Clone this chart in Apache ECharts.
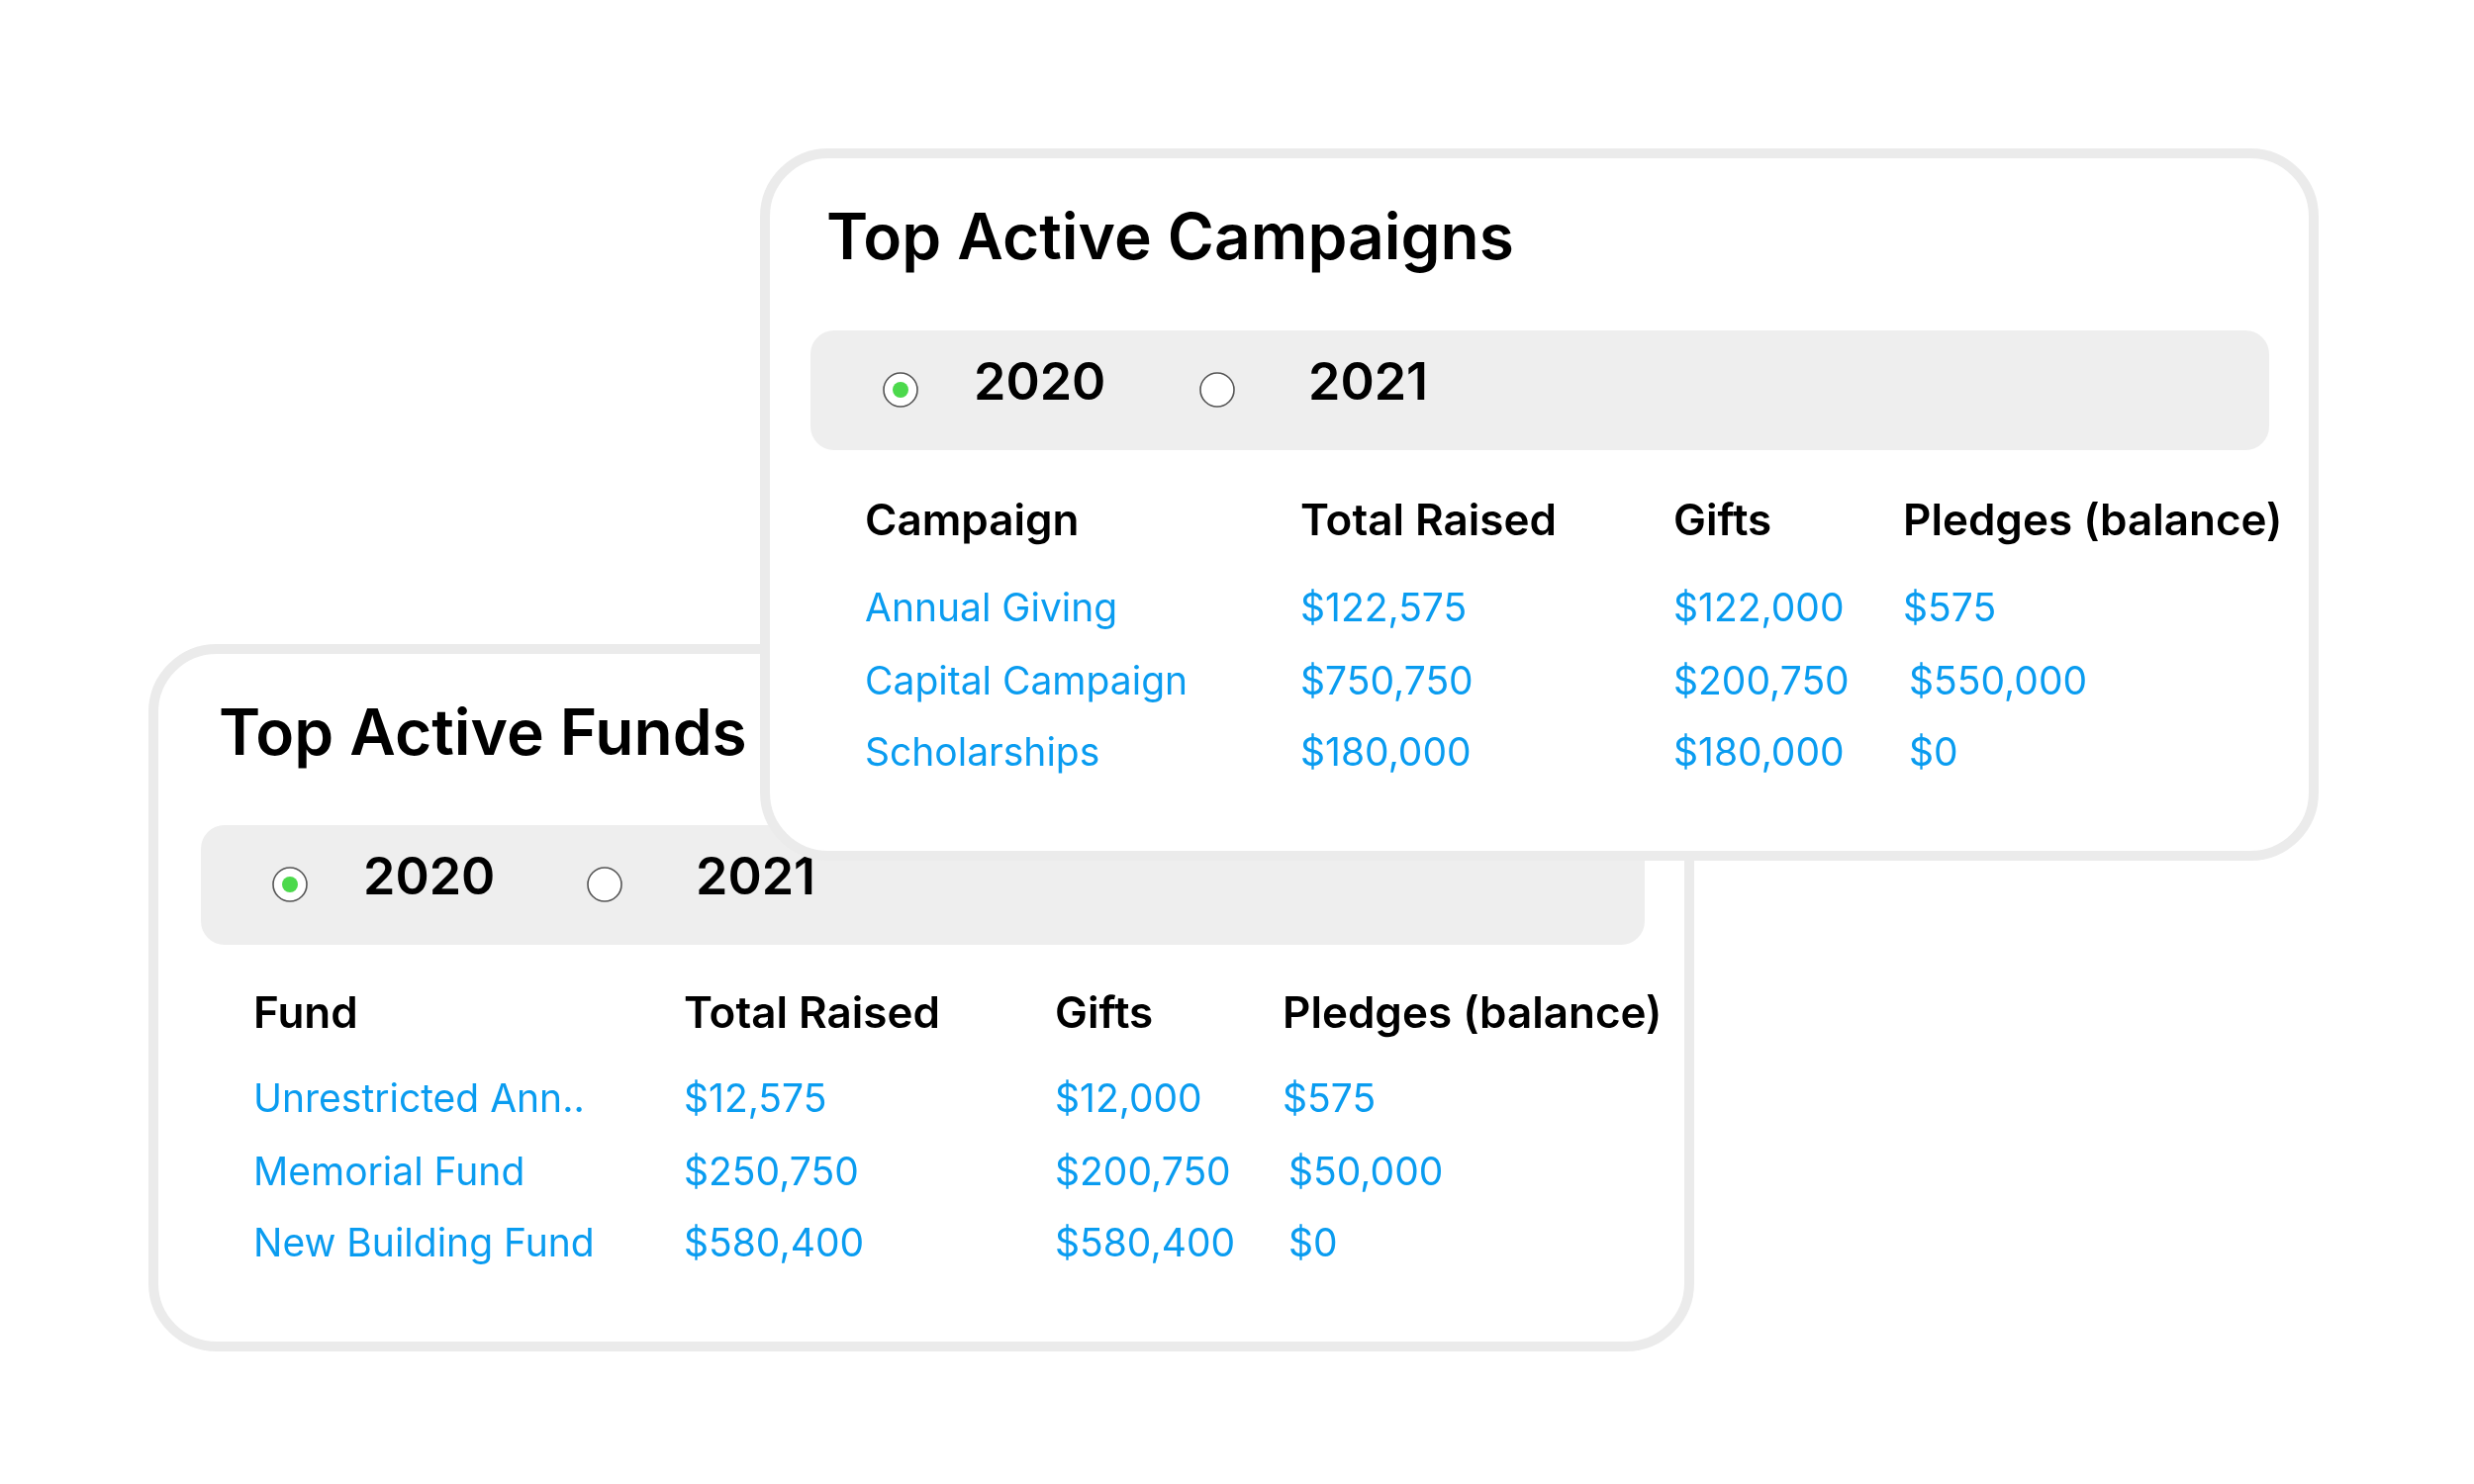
<!DOCTYPE html>
<html><head><meta charset="utf-8">
<script src="https://cdn.jsdelivr.net/npm/echarts@6/dist/echarts.min.js"></script>
<style>html,body{margin:0;background:#fff}#c{width:2500px;height:1500px}</style>
</head><body><div id="c"></div>
<script>
const headersFunds = ['Fund','Total Raised','Gifts','Pledges (balance)'];
const fundNames = ['Unrestricted Ann..','Memorial Fund','New Building Fund'];
const fundTotal = ['$12,575','$250,750','$580,400'];
const fundGifts = ['$12,000','$200,750','$580,400'];
const fundPledges = ['$575','$50,000','$0'];
const headersCamp = ['Campaign','Total Raised','Gifts','Pledges (balance)'];
const campNames = ['Annual Giving','Capital Campaign','Scholarships'];
const campTotal = ['$122,575','$750,750','$180,000'];
const campGifts = ['$122,000','$200,750','$180,000'];
const campPledges = ['$575','$550,000','$0'];
const years = ['2020','2021'];

const F = 'Inter, "Noto Sans", sans-serif';
const BLUE = '#0a9cf0';
function card(o){
  const els = [];
  els.push({type:'rect',shape:{x:o.x,y:o.y,width:o.w,height:o.h,r:64},style:{fill:'#fff',stroke:'#ebebeb',lineWidth:10}});
  els.push({type:'text',style:{text:o.title,x:o.x+o.tx,y:o.y+o.ty,font:'600 64px '+F,fill:'#000',verticalAlign:'middle'}});
  els.push({type:'rect',shape:{x:o.bx,y:o.by,width:o.bw,height:121,r:24},style:{fill:'#eeeeee'}});
  const cy=o.by+60;
  [[o.r1,0,74],[o.r2,1,92]].forEach(([rx,i,off])=>{
    els.push({type:'circle',shape:{cx:rx,cy:cy,r:17},style:{fill:'#fff',stroke:'#555',lineWidth:1.6}});
    if(i===0) els.push({type:'circle',shape:{cx:rx,cy:cy,r:8},style:{fill:'#4cd94c'}});
    els.push({type:'text',style:{text:years[i],x:rx+off,y:cy-6,font:'600 52px '+F,fill:'#000',verticalAlign:'middle'}});
  });
  o.headers.forEach((h,i)=>els.push({type:'text',style:{text:h,x:o.cols[i],y:o.hy,font:'600 44px '+F,fill:'#000',verticalAlign:'middle'}}));
  o.rows.forEach((col,ci)=>col.forEach((v,ri)=>{
    const dx = (ci===3 && ri>0)?6:0;
    els.push({type:'text',style:{text:v,x:o.cols[ci]+dx,y:o.ry[ri],font:'400 39px '+F,fill:BLUE,verticalAlign:'middle'}});
  }));
  return {type:'group',children:els};
}
const funds = card({x:155,y:656,w:1552,h:705,title:'Top Active Funds',tx:66,ty:88,bx:203,by:834,bw:1459,
  r1:293,r2:611,headers:headersFunds,cols:[256,691,1066,1296],hy:1026,ry:[1112,1186,1258],
  rows:[fundNames,fundTotal,fundGifts,fundPledges]});
const camps = card({x:773,y:155,w:1565,h:710,title:'Top Active Campaigns',tx:62,ty:88,bx:819,by:334,bw:1474,
  r1:910,r2:1230,headers:headersCamp,cols:[874,1314,1691,1923],hy:528,ry:[616,690,762],
  rows:[campNames,campTotal,campGifts,campPledges]});
const chart = echarts.init(document.getElementById('c'));
chart.setOption({backgroundColor:'#fff',graphic:[funds,camps]});
</script></body></html>
